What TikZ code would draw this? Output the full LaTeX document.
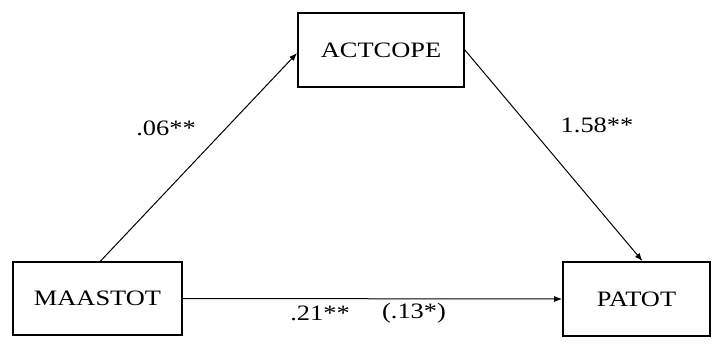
\documentclass[tikz,border=0pt]{standalone}
\usepackage{fontspec}
\newfontfamily\pathfont[FakeStretch=1.2]{Liberation Serif}
\usetikzlibrary{arrows.meta, positioning}

\begin{document}
\begin{tikzpicture}[
  x=1pt, y=-1pt,
  var/.style={rectangle, draw=black, line width=1.8pt, fill=white, inner sep=0pt},
  path/.style={-{Latex[length=8pt, width=6pt]}, line width=1pt, black},
  coef/.style={font=\pathfont\fontsize{22}{26}\selectfont},
  every node/.style={font=\pathfont\fontsize{22}{26}\selectfont}
]
  \useasboundingbox (0,0) rectangle (718,346);

  \node[var, minimum width=166pt, minimum height=74pt] (act) at (381, 50) {ACTCOPE};
  \node[var, minimum width=169pt, minimum height=73pt] (maas) at (97.5, 298.5) {MAASTOT};
  \node[var, minimum width=147pt, minimum height=74pt] (pat) at (636.5, 299) {PATOT};

  \draw[path] ([xshift=3pt]maas.north) -- ([yshift=-3pt]act.west);
  \draw[path] (act.east) -- ([xshift=6pt]pat.north);
  \draw[path] (maas.east) -- (pat.west);

  \node[coef] (a) at (166, 128) {.06**};
  \node[coef] (b) at (597, 125) {1.58**};
  \node[coef] (c) at (320, 313) {.21**};
  \node[coef] (cp) at (414, 313) {(.13*)};
\end{tikzpicture}
\end{document}
